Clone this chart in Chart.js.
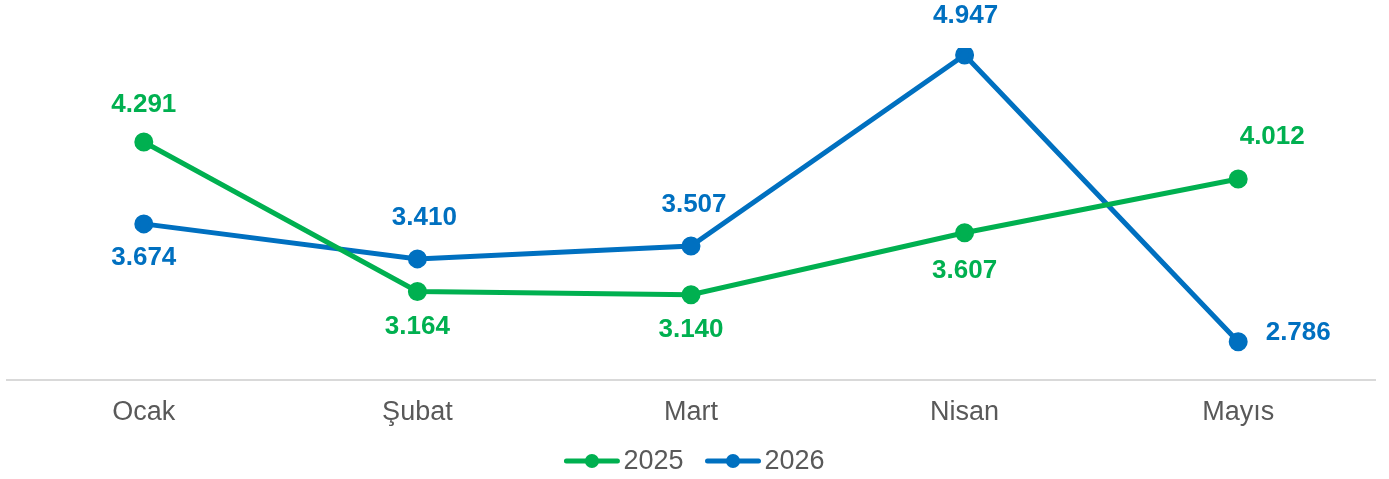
<!DOCTYPE html>
<html lang="tr">
  <head>
    <meta charset="UTF-8" />
    <script src="https://cdn.jsdelivr.net/npm/chart.js@4.4.1/dist/chart.umd.min.js"></script>
    <title>2025 - 2026</title>
    <style>
      body {
        margin: 0;
        padding: 0;
        background: #fff;
      }
      .container {
        width: 1389px;
        height: 479px;
      }
    </style>
  </head>
  <body>
    <div class="container">
      <canvas id="chart"></canvas>
    </div>
    <script>
      const months = ['Ocak', 'Şubat', 'Mart', 'Nisan', 'Mayıs']
      const values2025 = [4.291, 3.164, 3.14, 3.607, 4.012]
      const values2026 = [3.674, 3.41, 3.507, 4.947, 2.786]

      const green = '#00B050'
      const blue = '#0070C0'
      const FONT = '"Liberation Sans", Arial, sans-serif'

      // label offsets from each point (dx, dy)
      const labelOffsets = [
        [[0, -37], [0, 35], [0, 35], [0, 38], [34, -42]],
        [[0, 34], [7, -41], [3, -41], [1, -39], [60, -9]],
      ]

      const fmt = (v) => v.toFixed(3)

      const valueLabels = {
        id: 'valueLabels',
        afterDatasetsDraw(chart) {
          const ctx = chart.ctx
          ctx.save()
          ctx.font = 'bold 26px ' + FONT
          ctx.textAlign = 'center'
          ctx.textBaseline = 'middle'
          chart.data.datasets.forEach((ds, di) => {
            const meta = chart.getDatasetMeta(di)
            ctx.fillStyle = ds.borderColor
            meta.data.forEach((pt, i) => {
              const [dx, dy] = labelOffsets[di][i]
              ctx.fillText(fmt(ds.data[i]), pt.x + dx, pt.y + dy)
            })
          })
          ctx.restore()
        },
      }

      // line + marker legend, like the office chart
      const lineLegend = {
        id: 'lineLegend',
        afterDraw(chart) {
          const ctx = chart.ctx
          const y = 461
          const iconW = 55
          ctx.save()
          ctx.font = '27px ' + FONT
          ctx.textBaseline = 'middle'
          const items = chart.data.datasets.map((ds) => ({
            ds,
            w: iconW + 4 + ctx.measureText(ds.label).width,
          }))
          const total = items.reduce((s, it) => s + it.w, 0) + 22 * (items.length - 1)
          let x = chart.width / 2 - total / 2
          items.forEach(({ ds, w }) => {
            ctx.strokeStyle = ds.borderColor
            ctx.fillStyle = ds.borderColor
            ctx.lineWidth = 5
            ctx.lineCap = 'round'
            ctx.beginPath()
            ctx.moveTo(x + 2, y)
            ctx.lineTo(x + iconW - 2, y)
            ctx.stroke()
            ctx.beginPath()
            ctx.arc(x + iconW / 2, y, 7, 0, Math.PI * 2)
            ctx.fill()
            ctx.fillStyle = '#595959'
            ctx.fillText(ds.label, x + iconW + 4, y + 1)
            x += w + 22
          })
          ctx.restore()
        },
      }

      new Chart(document.getElementById('chart'), {
        type: 'line',
        data: {
          labels: months,
          datasets: [
            {
              label: '2025',
              data: values2025,
              borderColor: green,
              backgroundColor: green,
              borderWidth: 5,
              pointRadius: 7,
              pointHoverRadius: 7,
              tension: 0,
            },
            {
              label: '2026',
              data: values2026,
              borderColor: blue,
              backgroundColor: blue,
              borderWidth: 5,
              pointRadius: 7,
              pointHoverRadius: 7,
              tension: 0,
            },
          ],
        },
        options: {
          responsive: true,
          maintainAspectRatio: false,
          animation: false,
          layout: {
            autoPadding: false,
            padding: { top: 48, left: 7, right: 14, bottom: 41 },
          },
          plugins: {
            tooltip: { enabled: false },
            legend: { display: false },
          },
          scales: {
            x: {
              offset: true,
              grid: { display: false },
              border: { color: '#d9d9d9', width: 2 },
              ticks: {
                color: '#595959',
                padding: 9,
                font: { family: FONT, size: 27 },
              },
            },
            y: {
              display: false,
              min: 2.5,
              max: 5.0,
            },
          },
        },
        plugins: [valueLabels, lineLegend],
      })
    </script>
  </body>
</html>
